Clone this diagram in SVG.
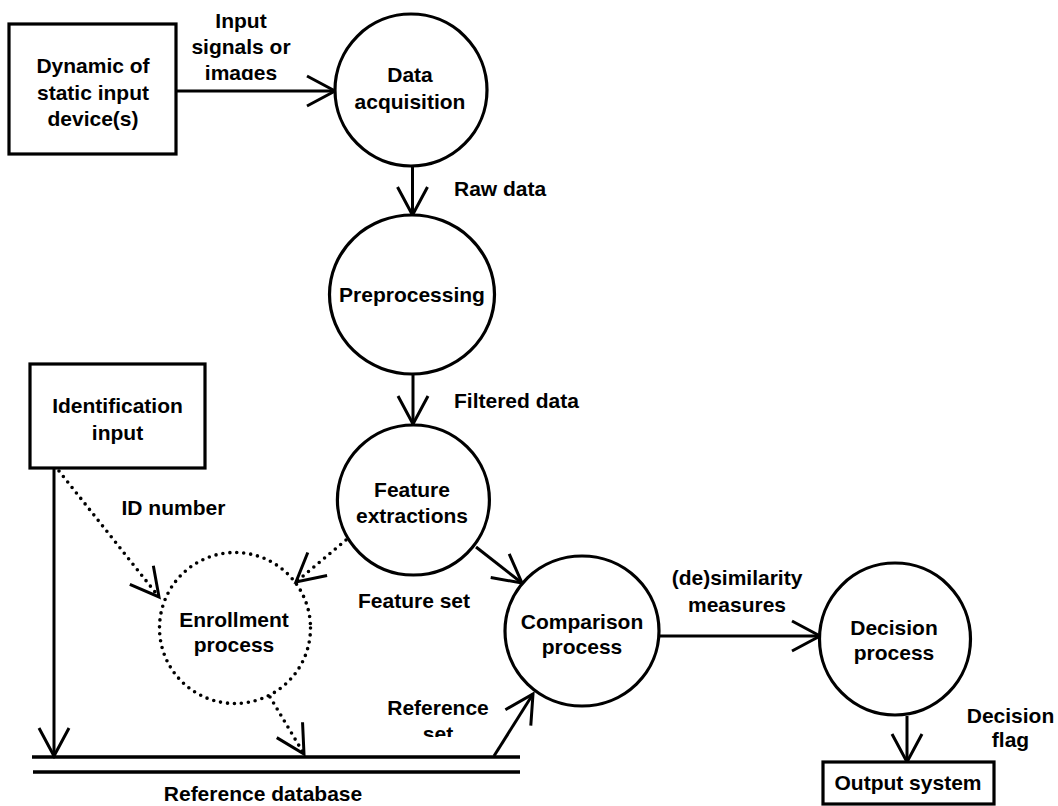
<svg xmlns="http://www.w3.org/2000/svg" width="1058" height="806" viewBox="0 0 1058 806">
<style>
text{font-family:"Liberation Sans",Arial,sans-serif;font-weight:bold;font-size:21px;fill:#000}
.c{text-anchor:middle}
.shape{fill:#fff;stroke:#000;stroke-width:3.2}
.dot{fill:none;stroke:#000;stroke-width:3.6;stroke-dasharray:0 7;stroke-linecap:round}
.ln{fill:none;stroke:#000;stroke-width:3}
.db{fill:none;stroke:#000;stroke-width:3.5}
</style>
<defs>
<marker id="ah" markerUnits="userSpaceOnUse" markerWidth="40" markerHeight="40" viewBox="-32 -20 36 40" refX="0" refY="0" orient="auto" overflow="visible">
<path d="M-28,-15 L0,0 L-28,15" fill="none" stroke="#000" stroke-width="3" stroke-dasharray="none" stroke-linecap="butt"/>
</marker>
<clipPath id="clipImages"><rect x="150" y="0" width="200" height="80"/></clipPath>
<clipPath id="clipSet"><rect x="360" y="690" width="160" height="47"/></clipPath>
</defs>

<g id="connectors">
<line class="ln" x1="176" y1="91" x2="335" y2="91" marker-end="url(#ah)"/>
<line class="ln" x1="412.5" y1="166" x2="412.5" y2="215" marker-end="url(#ah)"/>
<line class="ln" x1="413" y1="374" x2="413" y2="424" marker-end="url(#ah)"/>
<line class="ln" x1="54" y1="468" x2="54" y2="756" marker-end="url(#ah)"/>
<line class="dot" x1="59" y1="471" x2="159" y2="597"/>
<line class="ln" x1="59" y1="471" x2="159" y2="597" stroke-opacity="0" marker-end="url(#ah)"/>
<line class="dot" x1="346" y1="540" x2="296" y2="582"/>
<line class="ln" x1="346" y1="540" x2="296" y2="582" stroke-opacity="0" marker-end="url(#ah)"/>
<line class="ln" x1="476" y1="547" x2="522" y2="583" marker-end="url(#ah)"/>
<line class="dot" x1="270" y1="697" x2="304" y2="754"/>
<line class="ln" x1="270" y1="697" x2="304" y2="754" stroke-opacity="0" marker-end="url(#ah)"/>
<line class="ln" x1="494" y1="756" x2="533" y2="694" marker-end="url(#ah)"/>
<line class="ln" x1="659" y1="636" x2="820" y2="636" marker-end="url(#ah)"/>
<line class="ln" x1="907" y1="716" x2="907" y2="762" marker-end="url(#ah)"/>
<text x="241" y="27.5" class="c">Input</text>
<text x="241" y="53.8" class="c">signals or</text>
<text x="241" y="80" class="c" clip-path="url(#clipImages)">images</text>
<text x="454" y="196">Raw data</text>
<text x="454" y="408">Filtered data</text>
<text x="121.5" y="515">ID number</text>
<text x="414" y="608" class="c">Feature set</text>
<text x="438" y="715" class="c">Reference</text>
<text x="438" y="741" class="c" clip-path="url(#clipSet)">set</text>
<text x="737" y="585" class="c">(de)similarity</text>
<text x="737" y="611.5" class="c">measures</text>
<text x="1010.5" y="723" class="c">Decision</text>
<text x="1010.5" y="747" class="c">flag</text>
</g>

<g id="input-device">
<rect class="shape" x="9" y="24" width="167" height="130"/>
<text x="93" y="73" class="c">Dynamic of</text>
<text x="93" y="99.5" class="c">static input</text>
<text x="93" y="126" class="c">device(s)</text>
</g>

<g id="data-acquisition">
<circle class="shape" cx="411" cy="90" r="76"/>
<text x="410" y="82" class="c">Data</text>
<text x="410" y="109" class="c">acquisition</text>
</g>

<g id="preprocessing">
<ellipse class="shape" cx="412" cy="294.5" rx="82.5" ry="79.5"/>
<text x="412" y="302" class="c">Preprocessing</text>
</g>

<g id="identification-input">
<rect class="shape" x="30" y="364" width="175" height="104"/>
<text x="117.5" y="413" class="c">Identification</text>
<text x="117.5" y="439.5" class="c">input</text>
</g>

<g id="feature-extractions">
<ellipse class="shape" cx="413.4" cy="500" rx="76" ry="75"/>
<text x="412" y="497" class="c">Feature</text>
<text x="412" y="523" class="c">extractions</text>
</g>

<g id="enrollment-process">
<circle class="dot" cx="235" cy="628" r="75.5"/>
<text x="234" y="627" class="c">Enrollment</text>
<text x="234" y="652" class="c">process</text>
</g>

<g id="comparison-process">
<ellipse class="shape" cx="582" cy="631" rx="77" ry="75"/>
<text x="582" y="628.5" class="c">Comparison</text>
<text x="582" y="653.5" class="c">process</text>
</g>

<g id="decision-process">
<ellipse class="shape" cx="895" cy="639" rx="75.5" ry="76"/>
<text x="894" y="635" class="c">Decision</text>
<text x="894" y="660" class="c">process</text>
</g>

<g id="output-system">
<rect class="shape" x="823" y="762" width="171" height="42"/>
<text x="908" y="790" class="c">Output system</text>
</g>

<g id="reference-database">
<line class="db" x1="32" y1="757" x2="520" y2="757"/>
<line class="db" x1="33" y1="772" x2="520" y2="772"/>
<text x="263" y="801" class="c">Reference database</text>
</g>
</svg>
